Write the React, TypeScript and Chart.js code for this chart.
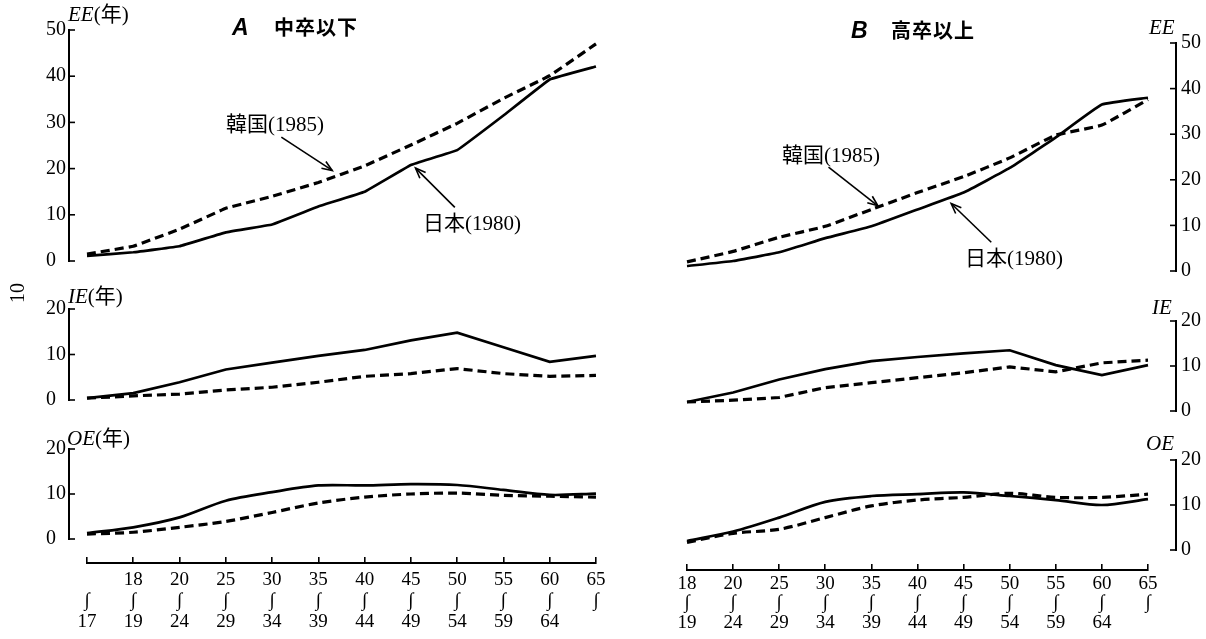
import React, { useEffect, useRef } from 'react';
import { Chart, registerables } from 'chart.js';

Chart.register(...registerables);

const SERIF = '"Liberation Serif", "DejaVu Serif", "Noto Sans CJK JP", serif';
const CJK = '"Noto Sans CJK JP", sans-serif';

// ---- categories (age groups) ----
const ageFromA = ['', '18', '20', '25', '30', '35', '40', '45', '50', '55', '60', '65'];
const ageToA = ['17', '19', '24', '29', '34', '39', '44', '49', '54', '59', '64', ''];
const ageFromB = ['18', '20', '25', '30', '35', '40', '45', '50', '55', '60', '65'];
const ageToB = ['19', '24', '29', '34', '39', '44', '49', '54', '59', '64', ''];
const rangeMark = '∫';

// ---- y tick labels ----
const ticksEE = [0, 10, 20, 30, 40, 50];
const ticksSub = [0, 10, 20];

// ---- A: 中卒以下 ----
const eeJapanA = [1.1, 1.9, 3.2, 6.2, 7.9, 11.8, 15.0, 20.8, 24.0, 31.5, 39.3, 42.1];
const eeKoreaA = [1.5, 3.2, 6.9, 11.4, 14.0, 17.0, 20.6, 25.1, 29.8, 35.2, 40.1, 47.0];
const ieJapanA = [0.4, 1.5, 3.9, 6.7, 8.2, 9.7, 11.0, 13.1, 14.8, 11.6, 8.4, 9.7];
const ieKoreaA = [0.4, 0.9, 1.3, 2.2, 2.8, 3.9, 5.2, 5.8, 6.9, 5.8, 5.2, 5.4];
const oeJapanA = [1.3, 2.6, 4.8, 8.5, 10.4, 11.9, 11.9, 12.2, 12.0, 10.9, 9.8, 10.1];
const oeKoreaA = [1.1, 1.5, 2.6, 3.9, 5.9, 8.0, 9.3, 10.0, 10.2, 9.7, 9.5, 9.3];

// ---- B: 高卒以上 ----
const eeJapanB = [1.1, 2.2, 4.1, 7.2, 9.8, 13.5, 17.2, 22.6, 29.3, 36.5, 38.0];
const eeKoreaB = [2.0, 4.3, 7.4, 9.8, 13.5, 17.2, 20.7, 24.8, 29.8, 32.0, 37.6];
const ieJapanB = [2.0, 4.1, 7.0, 9.3, 11.1, 12.0, 12.8, 13.5, 10.2, 8.0, 10.2];
const ieKoreaB = [2.0, 2.4, 3.0, 5.2, 6.3, 7.4, 8.5, 9.8, 8.7, 10.7, 11.3];
const oeJapanB = [2.0, 4.1, 7.2, 10.7, 12.0, 12.4, 12.8, 12.0, 11.1, 10.0, 11.3];
const oeKoreaB = [1.7, 3.7, 4.6, 7.2, 9.8, 11.1, 11.7, 12.6, 11.7, 11.7, 12.4];

const seriesNames = ['日本(1980)', '韓国(1985)'];

type ArrowSpec = { from: [number, number]; to: [number, number] };

const arrowsEEA: ArrowSpec[] = [
  { from: [4.2, 26.8], to: [5.3, 19.6] },
  { from: [7.95, 11.6], to: [7.1, 20.1] },
];
const arrowsEEB: ArrowSpec[] = [
  { from: [3.07, 22.8], to: [4.14, 14.3] },
  { from: [6.6, 6.3], to: [5.73, 14.8] },
];

// ---- layout geometry ----
const GEO = {
  A: { canvasLeft: 0, canvasWidth: 610, padLeft: 46, axisW: 23, padRight: 10, caLeft: 69, caRight: 600, x0: 87, step: 46.27, side: 'left' as const },
  B: { canvasLeft: 620, canvasWidth: 586, padLeft: 30, axisW: 30, padRight: 0, caLeft: 650, caRight: 1176, x0: 687, step: 46.1, side: 'right' as const },
};

const innerTicks = {
  id: 'innerTicks',
  afterDraw(chart: any) {
    const y = chart.scales.y;
    const ca = chart.chartArea;
    const side = y.position;
    const ax = side === 'left' ? ca.left : ca.right;
    const dir = side === 'left' ? 1 : -1;
    const ctx = chart.ctx;
    ctx.save();
    ctx.strokeStyle = '#000';
    ctx.lineWidth = 1.6;
    y.ticks.forEach((t: any) => {
      const py = y.getPixelForValue(t.value);
      ctx.beginPath();
      ctx.moveTo(ax, py);
      ctx.lineTo(ax + dir * 6, py);
      ctx.stroke();
    });
    ctx.restore();
  },
};

function makeArrowPlugin(arrows: ArrowSpec[]) {
  return {
    id: 'arrows',
    afterDatasetsDraw(chart: any) {
      const { x, y } = chart.scales;
      const ctx = chart.ctx;
      ctx.save();
      ctx.strokeStyle = '#000';
      ctx.lineWidth = 1.6;
      arrows.forEach((a) => {
        const x1 = x.getPixelForValue(a.from[0]);
        const y1 = y.getPixelForValue(a.from[1]);
        const x2 = x.getPixelForValue(a.to[0]);
        const y2 = y.getPixelForValue(a.to[1]);
        const ang = Math.atan2(y2 - y1, x2 - x1);
        ctx.beginPath();
        ctx.moveTo(x1, y1);
        ctx.lineTo(x2, y2);
        ctx.stroke();
        const L = 11;
        const w = 0.38;
        ctx.beginPath();
        ctx.moveTo(x2 - L * Math.cos(ang - w), y2 - L * Math.sin(ang - w));
        ctx.lineTo(x2, y2);
        ctx.lineTo(x2 - L * Math.cos(ang + w), y2 - L * Math.sin(ang + w));
        ctx.stroke();
      });
      ctx.restore();
    },
  };
}

type PanelProps = {
  col: 'A' | 'B';
  caTop: number;
  caBottom: number;
  yTicks: number[];
  japan: number[];
  korea: number[];
  tension: number;
  arrows?: ArrowSpec[];
};

function Panel({ col, caTop, caBottom, yTicks, japan, korea, tension, arrows }: PanelProps) {
  const ref = useRef<HTMLCanvasElement>(null);
  const g = GEO[col];
  const pad = 16;
  const top = caTop - pad;
  const height = caBottom - caTop + pad * 2;
  useEffect(() => {
    const xMin = (g.caLeft - g.x0) / g.step;
    const xMax = (g.caRight - g.x0) / g.step;
    const chart = new Chart(ref.current as HTMLCanvasElement, {
      type: 'line',
      data: {
        datasets: [
          {
            label: seriesNames[0],
            data: japan.map((v, i) => ({ x: i, y: v })),
            borderColor: '#000',
            borderWidth: 2.7,
            pointRadius: 0,
            tension,
            clip: false as any,
            fill: false,
          },
          {
            label: seriesNames[1],
            data: korea.map((v, i) => ({ x: i, y: v })),
            borderColor: '#000',
            borderWidth: 3.2,
            borderDash: [9, 5],
            pointRadius: 0,
            tension,
            clip: false as any,
            fill: false,
          },
        ],
      },
      options: {
        responsive: false,
        animation: false,
        events: [],
        layout: { padding: { top: pad, bottom: pad, left: g.padLeft, right: g.padRight } },
        plugins: { legend: { display: false }, tooltip: { enabled: false } },
        scales: {
          x: { type: 'linear', min: xMin, max: xMax, display: false },
          y: {
            type: 'linear',
            position: g.side,
            min: yTicks[0],
            max: yTicks[yTicks.length - 1],
            ticks: {
              stepSize: yTicks[1] - yTicks[0],
              color: '#000',
              padding: 5,
              crossAlign: g.side === 'left' ? 'far' : 'near',
              font: { family: SERIF, size: 20 },
            },
            grid: { display: false, drawTicks: false },
            border: { display: true, color: '#000', width: 2 },
            afterFit: (s: any) => {
              s.width = g.axisW;
            },
          },
        },
      } as any,
      plugins: [innerTicks, makeArrowPlugin(arrows || [])],
    });
    return () => chart.destroy();
  }, []);
  return (
    <canvas
      ref={ref}
      width={g.canvasWidth}
      height={height}
      style={{ position: 'absolute', left: g.canvasLeft, top, width: g.canvasWidth, height }}
    />
  );
}

type XAxisProps = {
  from: string[];
  to: string[];
  canvasLeft: number;
  canvasWidth: number;
  caLeft: number;
  caRight: number;
  lineY: number;
  tickLen: number;
  labelPad: number;
  lineHeight: number;
};

function XAxis({ from, to, canvasLeft, canvasWidth, caLeft, caRight, lineY, tickLen, labelPad, lineHeight }: XAxisProps) {
  const ref = useRef<HTMLCanvasElement>(null);
  const top = 540;
  const height = 99;
  useEffect(() => {
    const labels = from.map((f, i) => [f, rangeMark, to[i]]);
    const chart = new Chart(ref.current as HTMLCanvasElement, {
      type: 'line',
      data: { datasets: [] },
      options: {
        responsive: false,
        animation: false,
        events: [],
        layout: {
          padding: { left: caLeft - canvasLeft, right: canvasLeft + canvasWidth - caRight, top: lineY - tickLen - top, bottom: 0 },
        },
        plugins: { legend: { display: false }, tooltip: { enabled: false } },
        scales: {
          x: {
            type: 'linear',
            min: 0,
            max: from.length - 1,
            ticks: {
              stepSize: 1,
              autoSkip: false,
              maxRotation: 0,
              padding: labelPad,
              color: '#000',
              font: { family: SERIF, size: 19, lineHeight },
              callback: (v: any) => labels[Math.round(v)],
            },
            grid: { display: true, drawOnChartArea: true, drawTicks: false, color: '#000', lineWidth: 1.6 },
            border: { display: true, color: '#000', width: 2 },
            afterFit: (s: any) => {
              s.height = top + height - lineY;
            },
          },
          y: { display: false, min: 0, max: 1 },
        },
      } as any,
    });
    return () => chart.destroy();
  }, []);
  return (
    <canvas
      ref={ref}
      width={canvasWidth}
      height={height}
      style={{ position: 'absolute', left: canvasLeft, top, width: canvasWidth, height }}
    />
  );
}

function Txt({ x, cy, children, style }: { x: number; cy: number; children: React.ReactNode; style?: React.CSSProperties }) {
  return (
    <div
      style={{
        position: 'absolute',
        left: x,
        top: cy,
        transform: 'translateY(-50%)',
        lineHeight: 1,
        whiteSpace: 'nowrap',
        color: '#000',
        fontFamily: SERIF,
        fontSize: 21,
        ...style,
      }}
    >
      {children}
    </div>
  );
}

const it: React.CSSProperties = { fontStyle: 'italic' };

export default function App() {
  return (
    <div style={{ position: 'absolute', left: 0, top: 0, width: 1206, height: 639, background: '#fff', overflow: 'hidden' }}>
      <Panel col="A" caTop={29} caBottom={262} yTicks={ticksEE} japan={eeJapanA} korea={eeKoreaA} tension={0.05} arrows={arrowsEEA} />
      <Panel col="A" caTop={308} caBottom={401} yTicks={ticksSub} japan={ieJapanA} korea={ieKoreaA} tension={0} />
      <Panel col="A" caTop={448} caBottom={540} yTicks={ticksSub} japan={oeJapanA} korea={oeKoreaA} tension={0.3} />
      <XAxis from={ageFromA} to={ageToA} canvasLeft={0} canvasWidth={620} caLeft={87} caRight={596} lineY={563} tickLen={6} labelPad={7} lineHeight={1.1} />

      <Panel col="B" caTop={42} caBottom={272} yTicks={ticksEE} japan={eeJapanB} korea={eeKoreaB} tension={0.1} arrows={arrowsEEB} />
      <Panel col="B" caTop={320} caBottom={412} yTicks={ticksSub} japan={ieJapanB} korea={ieKoreaB} tension={0} />
      <Panel col="B" caTop={459} caBottom={551} yTicks={ticksSub} japan={oeJapanB} korea={oeKoreaB} tension={0.3} />
      <XAxis from={ageFromB} to={ageToB} canvasLeft={620} canvasWidth={586} caLeft={687} caRight={1148} lineY={570} tickLen={6} labelPad={4} lineHeight={1.03} />

      {/* titles */}
      <Txt x={232} cy={27} style={{ fontFamily: '"Liberation Sans", sans-serif', fontWeight: 'bold', fontStyle: 'italic', fontSize: 23 }}>A</Txt>
      <Txt x={274} cy={27} style={{ fontFamily: CJK, fontWeight: 'bold', fontSize: 20, letterSpacing: 1 }}>中卒以下</Txt>
      <Txt x={851} cy={30} style={{ fontFamily: '"Liberation Sans", sans-serif', fontWeight: 'bold', fontStyle: 'italic', fontSize: 23 }}>B</Txt>
      <Txt x={891} cy={30} style={{ fontFamily: CJK, fontWeight: 'bold', fontSize: 20, letterSpacing: 1 }}>高卒以上</Txt>

      {/* axis names */}
      <Txt x={68} cy={14}><span style={it}>EE</span>(年)</Txt>
      <Txt x={68} cy={296}><span style={it}>IE</span>(年)</Txt>
      <Txt x={67} cy={438}><span style={it}>OE</span>(年)</Txt>
      <Txt x={1149} cy={27}><span style={it}>EE</span></Txt>
      <Txt x={1152} cy={307}><span style={it}>IE</span></Txt>
      <Txt x={1146} cy={443}><span style={it}>OE</span></Txt>

      {/* series annotations */}
      <Txt x={226} cy={124}>{seriesNames[1]}</Txt>
      <Txt x={423} cy={223}>{seriesNames[0]}</Txt>
      <Txt x={782} cy={155}>{seriesNames[1]}</Txt>
      <Txt x={965} cy={258}>{seriesNames[0]}</Txt>

      {/* page number */}
      <div
        style={{
          position: 'absolute',
          left: 17,
          top: 293,
          transform: 'translate(-50%, -50%) rotate(-90deg)',
          fontFamily: SERIF,
          fontSize: 20,
          lineHeight: 1,
          color: '#000',
        }}
      >
        10
      </div>
    </div>
  );
}
